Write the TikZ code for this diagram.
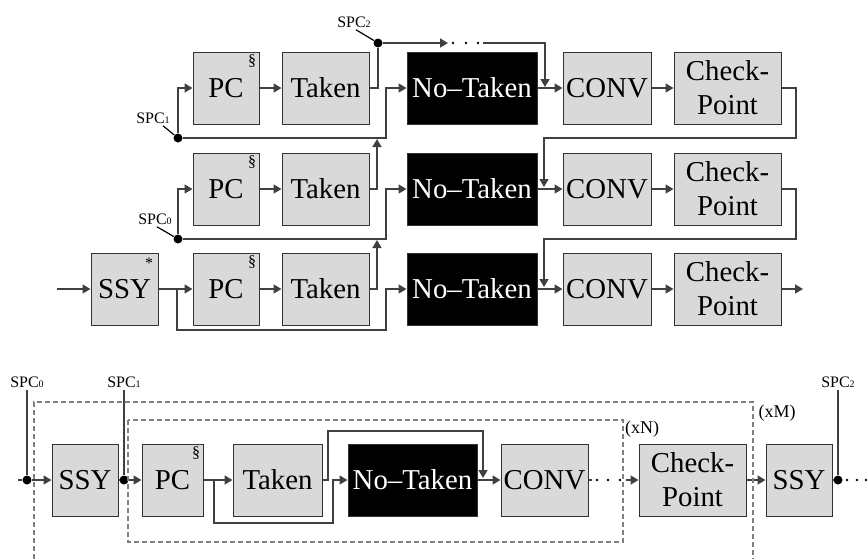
\documentclass[tikz,border=0pt]{standalone}
\usepackage{fontspec}
\setmainfont{Liberation Serif}
\usetikzlibrary{arrows.meta, positioning}
\definecolor{boxgray}{HTML}{D9D9D9}
\definecolor{wiregray}{HTML}{404040}

\tikzset{
  blk/.style={draw=black!80, line width=0.5pt, fill=boxgray, inner sep=0pt,
    minimum height=36pt, align=center, font=\fontsize{14.4}{17}\selectfont},
  blackblk/.style={blk, fill=black, text=white},
  wire/.style={draw=wiregray, line width=0.8pt},
  arr/.style={wire, -{Triangle[length=4pt,width=4.5pt]}},
  junc/.style={circle, fill=black, inner sep=0pt, minimum size=4.5pt},
  tag/.style={font=\fontsize{8}{8}\selectfont, inner sep=1pt},
  sym/.style={font=\fontsize{8}{8}\selectfont, inner sep=1.5pt, anchor=north east},
  frame/.style={draw=gray, line width=0.6pt, dash pattern=on 2.5pt off 1.5pt}
}
\newcommand{\spcl}[1]{SPC{\fontsize{5}{5}\selectfont #1}}

\begin{document}
\begin{tikzpicture}[x=0.5pt, y=-0.5pt]
  \useasboundingbox (0,0) rectangle (867,559);

  % Three unrolled rows
  \foreach \r/\y in {1/88, 2/189, 3/289} {
    \node[blk, minimum width=33pt] (pc\r) at (226,\y) {PC};
    \node[sym] at (pc\r.north east) {\S};
    \node[blk, minimum width=43.5pt] (tk\r) at (325.5,\y) {Taken};
    \node[blackblk, minimum width=65pt] (nt\r) at (472,\y) {No–Taken};
    \node[blk, minimum width=44pt] (cv\r) at (607,\y) {CONV};
    \node[blk, minimum width=53.5pt] (cp\r) at (727.5,\y) {Check-\\Point};
    \draw[arr] (pc\r) -- (tk\r);
    \draw[arr] (nt\r) -- (cv\r);
    \draw[arr] (cv\r) -- (cp\r);
  }

  % Entry block
  \node[blk, minimum width=33.5pt] (ssy) at (124.5,289) {SSY};
  \node[sym, inner sep=2.5pt] at (ssy.north east) {*};
  \coordinate (in) at (57,289);
  \draw[arr] (in) -- (ssy);
  \draw[arr] (ssy) -- (pc3);

  % SPC taps
  \node[junc] (s2) at (378,43) {};
  \node[junc] (s1) at (178,138) {};
  \node[junc] (s0) at (178,239) {};
  \node[tag] (s2l) at (354,22) {\spcl{2}};
  \node[tag] (s1l) at (153,118) {\spcl{1}};
  \node[tag] (s0l) at (155,219) {\spcl{0}};
  \draw[line width=0.6pt] ([xshift=1pt]s2l.south) -- (s2);
  \draw[line width=0.6pt] ([xshift=5pt]s1l.south) -- (s1);
  \draw[line width=0.6pt] ([xshift=1pt]s0l.south) -- (s0);

  % Taken outputs and side paths
  \draw[wire] (tk1.east) -| (s2);
  \draw[arr] (tk2.east) -| (377,139);
  \draw[arr] (tk3.east) -| (377,240);
  \draw[arr] (s1) |- (pc1.west);
  \draw[arr] (s0) |- (pc2.west);
  \draw[arr] (s1) -| (386,88) -- (nt1.west);
  \draw[arr] (s0) -| (386,189) -- (nt2.west);
  \coordinate (b3) at (177,289);
  \draw[arr] (b3) |- (386,330) |- (nt3.west);

  % SPC2 skip path
  \draw[arr] (s2) -- (448,43);
  \foreach \x in {453,466,478} \fill (\x,43) circle (1.4);
  \draw[arr] (483,43) -| (545,87);

  % Row feedback
  \draw[arr] (cp1.east) -| (796,138) -| (544,187);
  \draw[arr] (cp2.east) -| (796,239) -| (544,287);
  \draw[arr] (cp3.east) -- (803,289);

  % Rolled loop
  \node[blk, minimum width=33pt] (ssya) at (85,480) {SSY};
  \node[blk, minimum width=30.5pt] (pcb) at (172.5,480) {PC};
  \node[sym] at (pcb.north east) {\S};
  \node[blk, minimum width=44.5pt] (tkb) at (277.5,480) {Taken};
  \node[blackblk, minimum width=64.5pt] (ntb) at (412.5,480) {No–Taken};
  \node[blk, minimum width=43.5pt] (cvb) at (544.5,480) {CONV};
  \node[blk, minimum width=53.5pt] (cpb) at (692.5,480) {Check-\\Point};
  \node[blk, minimum width=33pt] (ssyb) at (799,480) {SSY};

  \node[junc] (j0) at (27,480) {};
  \node[junc] (j1) at (124,480) {};
  \node[junc] (j2) at (838,480) {};
  \coordinate (t0) at (27,390);
  \coordinate (t1) at (124,390);
  \coordinate (t2) at (838,390);
  \node[tag, above] at (t0) {\spcl{0}};
  \node[tag, above] at (t1) {\spcl{1}};
  \node[tag, above] at (t2) {\spcl{2}};
  \draw[wire] (t0) -- (j0);
  \draw[wire] (t1) -- (j1);
  \draw[wire] (t2) -- (j2);

  \draw[wire] (18,480) -- (j0);
  \draw[arr] (j0) -- (ssya);
  \draw[wire] (ssya) -- (j1);
  \draw[arr] (j1) -- (pcb);
  \draw[arr] (pcb) -- (tkb);
  \coordinate (bb) at (214,480);
  \draw[arr] (bb) |- (333,523) |- (ntb.west);
  \draw[arr] (tkb.east) -| (328,431) -| (483,478);
  \draw[arr] (ntb) -- (cvb);
  \draw[wire] (cvb.east) -- (592,480);
  \foreach \x in {597,608,620} \fill (\x,480) circle (1.4);
  \draw[arr] (626,480) -- (cpb);
  \draw[arr] (cpb) -- (ssyb);
  \draw[wire] (ssyb) -- (j2);
  \foreach \x in {847,857,866} \fill (\x,480) circle (1.4);

  % Loop frames
  \draw[frame] (128,420) rectangle (623,542);
  \draw[frame] (34,559) |- (753,402) -- (753,559);
  \node[font=\fontsize{9}{9}\selectfont] at (642,429) {(xN)};
  \node[font=\fontsize{9}{9}\selectfont] at (777,413) {(xM)};
\end{tikzpicture}
\end{document}
